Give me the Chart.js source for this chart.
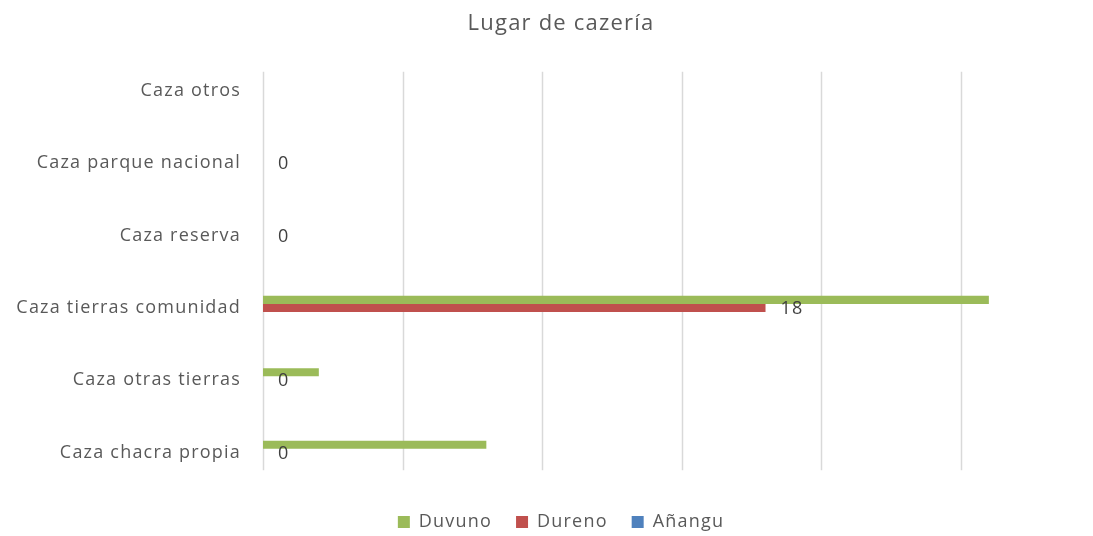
<!DOCTYPE html>
<html>
<head>
<meta charset="utf-8">
<script src="https://cdn.jsdelivr.net/npm/chart.js@4"></script>
<style>
  html, body { margin: 0; padding: 0; background: #fff; }
  #wrap { width: 1093px; height: 536px; }
</style>
</head>
<body>
<div id="wrap"><canvas id="chart"></canvas></div>
<script>
// values
const categories = [
  'Caza otros',
  'Caza parque nacional',
  'Caza reserva',
  'Caza tierras comunidad',
  'Caza otras tierras',
  'Caza chacra propia'
];
const duvuno = [null, null, null, 26, 2, 8];
const dureno = [null, 0, 0, 18, 0, 0];
const anangu = [null, null, null, null, null, null];
const xTicks = [0, 5, 10, 15, 20, 25];

const FONT = '"Open Sans"';
const TEXT = '#595959';
const SPACING = '1.2px';

// the original text is set a bit loose
const spacingPlugin = {
  id: 'spacing',
  beforeUpdate: (chart) => { chart.ctx.letterSpacing = SPACING; },
  beforeDraw: (chart) => { chart.ctx.letterSpacing = SPACING; }
};

// vertical gridlines, shorter than the category band like the original
const gridPlugin = {
  id: 'shortGrid',
  beforeDatasetsDraw: (chart) => {
    const ctx = chart.ctx;
    const xs = chart.scales.x;
    const ys = chart.scales.y;
    const band = (ys.bottom - ys.top) / categories.length;
    const top = ys.top + band * 0.24;
    const bottom = ys.bottom - band * 0.26;
    ctx.save();
    ctx.strokeStyle = '#d9d9d9';
    ctx.lineWidth = 1.5;
    xTicks.forEach(v => {
      const px = Math.round(xs.getPixelForValue(v)) + 0.5;
      ctx.beginPath();
      ctx.moveTo(px, top);
      ctx.lineTo(px, bottom);
      ctx.stroke();
    });
    ctx.restore();
  }
};

// value labels for the Dureno series
const labelPlugin = {
  id: 'valueLabels',
  afterDatasetsDraw: (chart) => {
    const ctx = chart.ctx;
    const meta = chart.getDatasetMeta(1);
    ctx.save();
    ctx.font = '18px ' + FONT;
    ctx.fillStyle = '#404040';
    ctx.textAlign = 'left';
    ctx.textBaseline = 'middle';
    meta.data.forEach((bar, i) => {
      if (dureno[i] === null) return;
      ctx.fillText(String(dureno[i]), bar.x + 15, bar.y + 1);
    });
    ctx.restore();
  }
};

new Chart(document.getElementById('chart'), {
  type: 'bar',
  data: {
    labels: categories,
    datasets: [
      { label: 'Duvuno', data: duvuno, backgroundColor: '#9bbb59' },
      { label: 'Dureno', data: dureno, backgroundColor: '#c0504d' },
      { label: 'Añangu', data: anangu, backgroundColor: '#4f81bd' }
    ]
  },
  options: {
    indexAxis: 'y',
    responsive: true,
    maintainAspectRatio: false,
    animation: false,
    // negative right padding keeps title and legend centred like the original
    layout: { padding: { left: 8, right: -21, top: 0, bottom: -5 } },
    datasets: {
      bar: { barPercentage: 1, categoryPercentage: 0.333 }
    },
    scales: {
      x: {
        min: 0,
        max: 29.73,
        ticks: { display: false, stepSize: 5 },
        grid: { display: false, drawTicks: false },
        border: { display: false }
      },
      y: {
        afterFit: (scale) => { scale.width = 255; },
        ticks: { color: TEXT, font: { family: FONT, size: 18 }, padding: 22 },
        grid: { display: false, drawTicks: false },
        border: { display: false }
      }
    },
    plugins: {
      title: {
        display: true,
        text: 'Lugar de cazería',
        color: TEXT,
        font: { family: FONT, size: 22, weight: 'normal' },
        padding: { top: 11, bottom: 17 }
      },
      legend: {
        position: 'bottom',
        labels: {
          color: TEXT,
          font: { family: FONT, size: 18 },
          boxWidth: 12,
          boxHeight: 12,
          padding: 24
        }
      },
      tooltip: { enabled: false }
    }
  },
  plugins: [spacingPlugin, gridPlugin, labelPlugin]
});
</script>
</body>
</html>
